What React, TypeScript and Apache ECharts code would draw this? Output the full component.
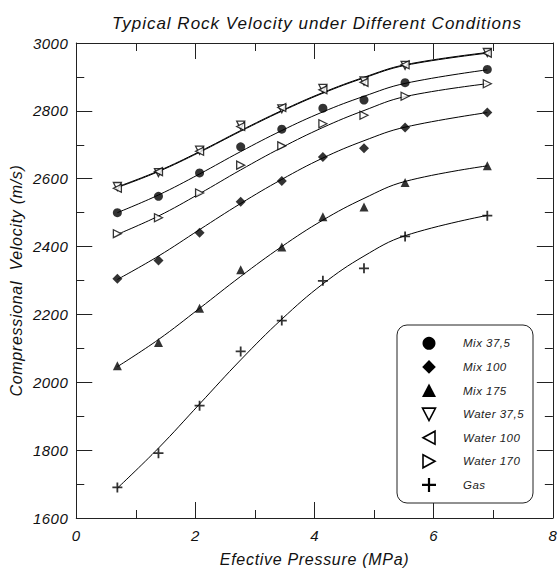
import React, { useEffect, useRef } from "react";
import * as echarts from "echarts";

// Effective pressure (MPa) at which velocities were measured
const pressure = [0.69, 1.38, 2.07, 2.76, 3.45, 4.14, 4.83, 5.52, 6.9];

// Measured compressional velocities (m/s)
const mix375 = [2500, 2548, 2617, 2694, 2746, 2808, 2832, 2883, 2922];
const mix100 = [2305, 2359, 2441, 2532, 2593, 2664, 2690, 2751, 2795];
const mix175 = [2049, 2117, 2218, 2332, 2399, 2488, 2517, 2589, 2638];
const water375 = [2577, 2618, 2684, 2758, 2806, 2866, 2888, 2934, 2972];
const water100 = [2572, 2621, 2681, 2754, 2810, 2862, 2884, 2936, 2970];
const water170 = [2438, 2485, 2558, 2640, 2697, 2762, 2787, 2843, 2880];
const gas = [1690, 1791, 1931, 2091, 2182, 2299, 2336, 2430, 2491];

// Fitted trend curves (same pressures)
const mix375Fit = [2500, 2552, 2614, 2680, 2742, 2797, 2843, 2881, 2921];
const mix100Fit = [2303, 2372, 2450, 2527, 2598, 2661, 2712, 2752, 2795];
const mix175Fit = [2046, 2126, 2218, 2312, 2400, 2478, 2542, 2592, 2638];
const water375Fit = [2576, 2623, 2680, 2742, 2801, 2854, 2899, 2936, 2972];
const water100Fit = [2574, 2621, 2678, 2740, 2799, 2852, 2897, 2934, 2970];
const water170Fit = [2436, 2490, 2556, 2626, 2692, 2751, 2801, 2842, 2880];
const gasFit = [1688, 1806, 1936, 2066, 2186, 2290, 2372, 2432, 2492];

const seriesNames = ["Mix 37,5", "Mix 100", "Mix 175", "Water 37,5", "Water 100", "Water 170", "Gas"];
const seriesValues = [mix375, mix100, mix175, water375, water100, water170, gas];
const seriesFits = [mix375Fit, mix100Fit, mix175Fit, water375Fit, water100Fit, water170Fit, gasFit];

const titleText = "Typical Rock Velocity under Different Conditions";
const xName = "Efective Pressure (MPa)";
const yName = "Compressional  Velocity (m/s)";

const plusPath = "path://M0,4.1H10V5.9H0Z M4.1,0H5.9V10H4.1Z";

const markerStyles = [
  { symbol: "circle", rotate: 0, hollow: false, size: 9 },
  { symbol: "diamond", rotate: 0, hollow: false, size: 10 },
  { symbol: "triangle", rotate: 0, hollow: false, size: 9 },
  { symbol: "triangle", rotate: 180, hollow: true, size: 8 },
  { symbol: "triangle", rotate: 90, hollow: true, size: 8 },
  { symbol: "triangle", rotate: -90, hollow: true, size: 8 },
  { symbol: plusPath, rotate: 0, hollow: false, size: 10 },
];

const FONT = "'Liberation Sans', Arial, sans-serif";
const INK = "#111";

function legendGraphics() {
  const left = 397, top = 325, w = 136, h = 178;
  const sx = 429, tx = 463, y0 = 343.3, dy = 23.6;
  const els: any[] = [
    {
      type: "rect",
      shape: { x: left, y: top, width: w, height: h, r: 10 },
      style: { fill: "#fff", stroke: "#222", lineWidth: 1 },
      z: 10,
    },
  ];
  const stroke = { stroke: "#000", lineWidth: 1.6, fill: "#fff" };
  seriesNames.forEach((name, i) => {
    const cy = y0 + i * dy;
    let shape: any;
    switch (i) {
      case 0:
        shape = { type: "circle", shape: { cx: sx, cy, r: 6.5 }, style: { fill: "#000" } };
        break;
      case 1:
        shape = { type: "polygon", shape: { points: [[sx, cy - 6.8], [sx + 6.8, cy], [sx, cy + 6.8], [sx - 6.8, cy]] }, style: { fill: "#000" } };
        break;
      case 2:
        shape = { type: "polygon", shape: { points: [[sx, cy - 7], [sx + 7, cy + 6.5], [sx - 7, cy + 6.5]] }, style: { fill: "#000" } };
        break;
      case 3:
        shape = { type: "polygon", shape: { points: [[sx - 6.5, cy - 6], [sx + 6.5, cy - 6], [sx, cy + 6.5]] }, style: stroke };
        break;
      case 4:
        shape = { type: "polygon", shape: { points: [[sx - 6, cy], [sx + 6, cy - 6.5], [sx + 6, cy + 6.5]] }, style: stroke };
        break;
      case 5:
        shape = { type: "polygon", shape: { points: [[sx - 6, cy - 6.5], [sx + 6, cy], [sx - 6, cy + 6.5]] }, style: stroke };
        break;
      default: {
        const a = 7, b = 1.1;
        shape = {
          type: "polygon",
          shape: {
            points: [
              [sx - b, cy - a], [sx + b, cy - a], [sx + b, cy - b], [sx + a, cy - b],
              [sx + a, cy + b], [sx + b, cy + b], [sx + b, cy + a], [sx - b, cy + a],
              [sx - b, cy + b], [sx - a, cy + b], [sx - a, cy - b], [sx - b, cy - b],
            ],
          },
          style: { fill: "#000" },
        };
      }
    }
    els.push({ ...shape, z: 11 });
    els.push({
      type: "text",
      x: tx,
      y: cy,
      z: 11,
      style: {
        text: name,
        fill: "#222",
        font: `italic 11.5px ${FONT}`,
        textVerticalAlign: "middle",
        verticalAlign: "middle",
      },
    });
  });
  return els;
}

export default function App() {
  const ref = useRef<HTMLDivElement>(null);
  useEffect(() => {
    if (!ref.current) return;
    const chart = echarts.init(ref.current, null, { renderer: "svg", width: 560, height: 572 });

    const axisLine = { show: true, onZero: false, lineStyle: { color: "#222", width: 1 } };
    const mkTick = () => ({ show: true, inside: true, length: 16, lineStyle: { color: "#222", width: 1 } });
    const minor = () => ({ show: true, splitNumber: 2, length: 8, lineStyle: { color: "#222", width: 1 } });
    const label = { color: INK, fontStyle: "italic", fontFamily: FONT, fontSize: 15 };

    const lineSeries = seriesNames.map((name, i) => ({
      name: name + " fit",
      type: "line",
      data: pressure.map((p, j) => [p, seriesFits[i][j]]),
      smooth: 0.4,
      showSymbol: false,
      symbol: "none",
      lineStyle: { color: "#000", width: 1 },
      silent: true,
      z: 2,
    }));

    const scatterSeries = seriesNames.map((name, i) => {
      const m = markerStyles[i];
      return {
        name,
        type: "scatter",
        data: pressure.map((p, j) => [p, seriesValues[i][j]]),
        symbol: m.symbol,
        symbolSize: m.size,
        symbolRotate: m.rotate,
        itemStyle: m.hollow
          ? { color: "#fff", borderColor: "#000", borderWidth: 1.3 }
          : { color: "#000" },
        z: 3,
      };
    });

    chart.setOption({
      animation: false,
      backgroundColor: "#fff",
      grid: { left: 76, right: 6, top: 43, bottom: 45, containLabel: false },
      xAxis: [
        {
          type: "value",
          min: 0,
          max: 8,
          interval: 2,
          position: "bottom",
          axisLine,
          axisTick: mkTick(),
          minorTick: minor(),
          splitLine: { show: false },
          axisLabel: { ...label, margin: 10 },
          name: xName,
          nameLocation: "middle",
          nameGap: 33,
          nameTextStyle: { color: INK, fontStyle: "italic", fontFamily: FONT, fontSize: 16 },
        },
        {
          type: "value",
          min: 0,
          max: 8,
          interval: 2,
          position: "top",
          axisLine,
          axisTick: mkTick(),
          minorTick: minor(),
          splitLine: { show: false },
          axisLabel: { show: false },
        },
      ],
      yAxis: [
        {
          type: "value",
          min: 1600,
          max: 3000,
          interval: 200,
          position: "left",
          axisLine,
          axisTick: mkTick(),
          minorTick: minor(),
          splitLine: { show: false },
          axisLabel: { ...label, margin: 8, formatter: (v: number) => String(v) },
          name: yName,
          nameLocation: "middle",
          nameGap: 47,
          nameTextStyle: { color: INK, fontStyle: "italic", fontFamily: FONT, fontSize: 16 },
        },
        {
          type: "value",
          min: 1600,
          max: 3000,
          interval: 200,
          position: "right",
          axisLine,
          axisTick: mkTick(),
          minorTick: minor(),
          splitLine: { show: false },
          axisLabel: { show: false },
        },
      ],
      graphic: [
        {
          type: "text",
          x: 317,
          y: 23,
          style: {
            text: titleText,
            fill: INK,
            font: `italic 17px ${FONT}`,
            textAlign: "center",
            textVerticalAlign: "middle",
            verticalAlign: "middle",
          },
        },
        ...legendGraphics(),
      ],
      series: [...lineSeries, ...scatterSeries],
    });
    return () => chart.dispose();
  }, []);

  return (
    <div style={{ position: "fixed", left: 0, top: 0, width: 560, height: 572, background: "#fff" }}>
      <style>{`
        .rk text { letter-spacing: 0.5px; }
        .rk text[style*="17px"] { letter-spacing: 1px; }
        .rk text[style*="16px"] { letter-spacing: 0.7px; }
      `}</style>
      <div className="rk" ref={ref} style={{ width: 560, height: 572 }} />
    </div>
  );
}
